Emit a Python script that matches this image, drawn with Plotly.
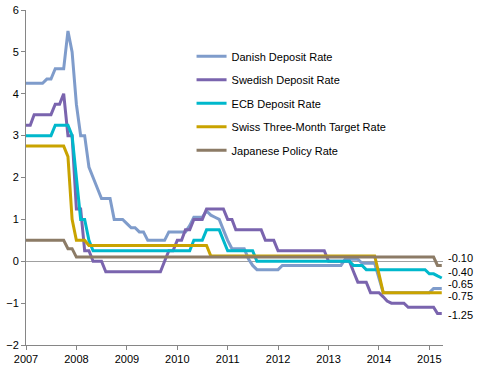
import pandas as pd
import plotly.graph_objects as go

# ---------------- data (monthly, Jan 2007 .. Apr 2015 on the chart's axis) ----------------
months = pd.date_range("2007-01-01", periods=100, freq="MS")

danish = [4.25, 4.25, 4.25, 4.25, 4.25, 4.35, 4.35, 4.6, 4.6, 4.6,
          5.5, 5.0, 3.75, 3.0, 3.0, 2.25, 2.0, 1.75, 1.5, 1.5,
          1.5, 1.0, 1.0, 1.0, 0.9, 0.8, 0.8, 0.7, 0.7, 0.5,
          0.5, 0.5, 0.5, 0.5, 0.7, 0.7, 0.7, 0.7, 0.7, 0.85,
          1.05, 1.05, 1.05, 1.2, 1.1, 1.05, 1.0, 0.75, 0.5, 0.3,
          0.3, 0.3, 0.3, 0.05, -0.1, -0.2, -0.2, -0.2, -0.2, -0.2,
          -0.2, -0.1, -0.1, -0.1, -0.1, -0.1, -0.1, -0.1, -0.1, -0.1,
          -0.1, -0.1, -0.1, -0.1, -0.1, -0.1, 0.05, 0.05, 0.05, 0.05,
          -0.05, -0.05, -0.05, -0.05, -0.4, -0.75, -0.75, -0.75, -0.75, -0.75,
          -0.75, -0.75, -0.75, -0.75, -0.75, -0.75, -0.75, -0.65, -0.65, -0.65]

swedish = [3.25, 3.25, 3.5, 3.5, 3.5, 3.5, 3.5, 3.75, 3.75, 4.0,
           3.0, 3.0, 1.25, 1.25, 0.25, 0.25, 0.0, 0.0, 0.0, -0.25,
           -0.25, -0.25, -0.25, -0.25, -0.25, -0.25, -0.25, -0.25, -0.25, -0.25,
           -0.25, -0.25, -0.25, 0.0, 0.25, 0.25, 0.5, 0.5, 0.75, 0.75,
           1.0, 1.0, 1.0, 1.25, 1.25, 1.25, 1.25, 1.25, 1.0, 1.0,
           0.75, 0.75, 0.75, 0.75, 0.75, 0.75, 0.75, 0.5, 0.5, 0.5,
           0.25, 0.25, 0.25, 0.25, 0.25, 0.25, 0.25, 0.25, 0.25, 0.25,
           0.25, 0.25, 0.0, 0.0, 0.0, 0.0, 0.0, 0.0, -0.25, -0.5,
           -0.5, -0.5, -0.75, -0.75, -0.75, -0.85, -0.95, -1.0, -1.0, -1.0,
           -1.0, -1.1, -1.1, -1.1, -1.1, -1.1, -1.1, -1.1, -1.25, -1.25]

ecb = [3.0, 3.0, 3.0, 3.0, 3.0, 3.0, 3.0, 3.25, 3.25, 3.25,
       3.25, 3.0, 2.0, 1.0, 1.0, 0.5, 0.25, 0.25, 0.25, 0.25,
       0.25, 0.25, 0.25, 0.25, 0.25, 0.25, 0.25, 0.25, 0.25, 0.25,
       0.25, 0.25, 0.25, 0.25, 0.25, 0.25, 0.25, 0.25, 0.25, 0.25,
       0.5, 0.5, 0.5, 0.75, 0.75, 0.75, 0.75, 0.5, 0.25, 0.25,
       0.25, 0.25, 0.25, 0.25, 0.25, 0.0, 0.0, 0.0, 0.0, 0.0,
       0.0, 0.0, 0.0, 0.0, 0.0, 0.0, 0.0, 0.0, 0.0, 0.0,
       0.0, 0.0, 0.0, 0.0, 0.0, 0.0, 0.0, 0.0, -0.1, -0.1,
       -0.1, -0.2, -0.2, -0.2, -0.2, -0.2, -0.2, -0.2, -0.2, -0.2,
       -0.2, -0.2, -0.2, -0.2, -0.2, -0.2, -0.3, -0.3, -0.35, -0.4]

swiss = [2.75, 2.75, 2.75, 2.75, 2.75, 2.75, 2.75, 2.75, 2.75, 2.75,
         2.5, 1.0, 0.5, 0.5, 0.5, 0.375, 0.375, 0.375, 0.375, 0.375,
         0.375, 0.375, 0.375, 0.375, 0.375, 0.375, 0.375, 0.375, 0.375, 0.375,
         0.375, 0.375, 0.375, 0.375, 0.375, 0.375, 0.375, 0.375, 0.375, 0.375,
         0.375, 0.375, 0.375, 0.375, 0.125, 0.125, 0.125, 0.125, 0.125, 0.125,
         0.125, 0.125, 0.125, 0.125, 0.125, 0.125, 0.125, 0.125, 0.125, 0.125,
         0.125, 0.125, 0.125, 0.125, 0.125, 0.125, 0.125, 0.125, 0.125, 0.125,
         0.125, 0.125, 0.125, 0.125, 0.125, 0.125, 0.125, 0.125, 0.125, 0.125,
         0.125, 0.125, 0.125, 0.125, -0.3, -0.75, -0.75, -0.75, -0.75, -0.75,
         -0.75, -0.75, -0.75, -0.75, -0.75, -0.75, -0.75, -0.75, -0.75, -0.75]

japan = [0.5, 0.5, 0.5, 0.5, 0.5, 0.5, 0.5, 0.5, 0.5, 0.5,
         0.3, 0.3, 0.1, 0.1, 0.1, 0.1, 0.1, 0.1, 0.1, 0.1,
         0.1, 0.1, 0.1, 0.1, 0.1, 0.1, 0.1, 0.1, 0.1, 0.1,
         0.1, 0.1, 0.1, 0.1, 0.1, 0.1, 0.1, 0.1, 0.1, 0.1,
         0.1, 0.1, 0.1, 0.1, 0.1, 0.1, 0.1, 0.1, 0.1, 0.1,
         0.1, 0.1, 0.1, 0.1, 0.1, 0.1, 0.1, 0.1, 0.1, 0.1,
         0.1, 0.1, 0.1, 0.1, 0.1, 0.1, 0.1, 0.1, 0.1, 0.1,
         0.1, 0.1, 0.1, 0.1, 0.1, 0.1, 0.1, 0.1, 0.1, 0.1,
         0.1, 0.1, 0.1, 0.1, 0.1, 0.1, 0.1, 0.1, 0.1, 0.1,
         0.1, 0.1, 0.1, 0.1, 0.1, 0.1, 0.1, 0.1, -0.1, -0.1]

series_names = ["Danish Deposit Rate", "Swedish Deposit Rate", "ECB Deposit Rate",
                "Swiss Three-Month Target Rate", "Japanese Policy Rate"]
series_values = [danish, swedish, ecb, swiss, japan]

end_labels = ["-0.10", "-0.40", "-0.65", "-0.75", "-1.25"]
year_ticks = ["2007", "2008", "2009", "2010", "2011", "2012", "2013", "2014", "2015"]

# ---------------- styling ----------------
colors = ["#7F9CCB", "#7A64AE", "#00B8CC", "#C9A300", "#8C7B66"]
label_y = [0.08, -0.25, -0.54, -0.82, -1.29]   # placement of end labels (layout only)
FONT = "Liberation Sans, Arial, sans-serif"

fig = go.Figure()
for name, vals, col in zip(series_names, series_values, colors):
    fig.add_trace(go.Scatter(x=months, y=vals, mode="lines", name=name,
                             legendgroup=name,
                             line=dict(color=col, width=3)))

for txt, yv in zip(end_labels, label_y):
    fig.add_annotation(x=1, xref="paper", y=yv, yref="y", text=txt,
                       showarrow=False, xanchor="left", xshift=3,
                       font=dict(family=FONT, size=11, color="#000000"))

fig.update_layout(
    width=483, height=371,
    margin=dict(l=26, r=40, t=10, b=26, pad=0, autoexpand=False),
    paper_bgcolor="white", plot_bgcolor="white",
    font=dict(family=FONT, size=11, color="#000000"),
    showlegend=True,
    legend=dict(x=0.397, y=0.905, xanchor="left", yanchor="top",
                bgcolor="rgba(0,0,0,0)", font=dict(size=11),
                tracegroupgap=4.5, itemwidth=30),
    xaxis=dict(range=["2007-01-01", "2015-04-10"],
               tickvals=[pd.Timestamp(y + "-01-01") for y in year_ticks],
               ticktext=year_ticks, automargin=False,
               showline=True, linecolor="#868686", linewidth=1,
               ticks="outside", ticklen=4, tickcolor="#868686",
               showgrid=False, zeroline=False),
    yaxis=dict(range=[-2, 6], dtick=1, automargin=False,
               showline=True, linecolor="#868686", linewidth=1,
               ticks="outside", ticklen=4, tickcolor="#868686",
               showgrid=False, zeroline=True, zerolinecolor="#A0A0A0",
               zerolinewidth=1),
)

fig.write_html("out.html",
               config={"displayModeBar": False},
               post_script="document.body.style.margin='0';document.body.style.padding='0';")
